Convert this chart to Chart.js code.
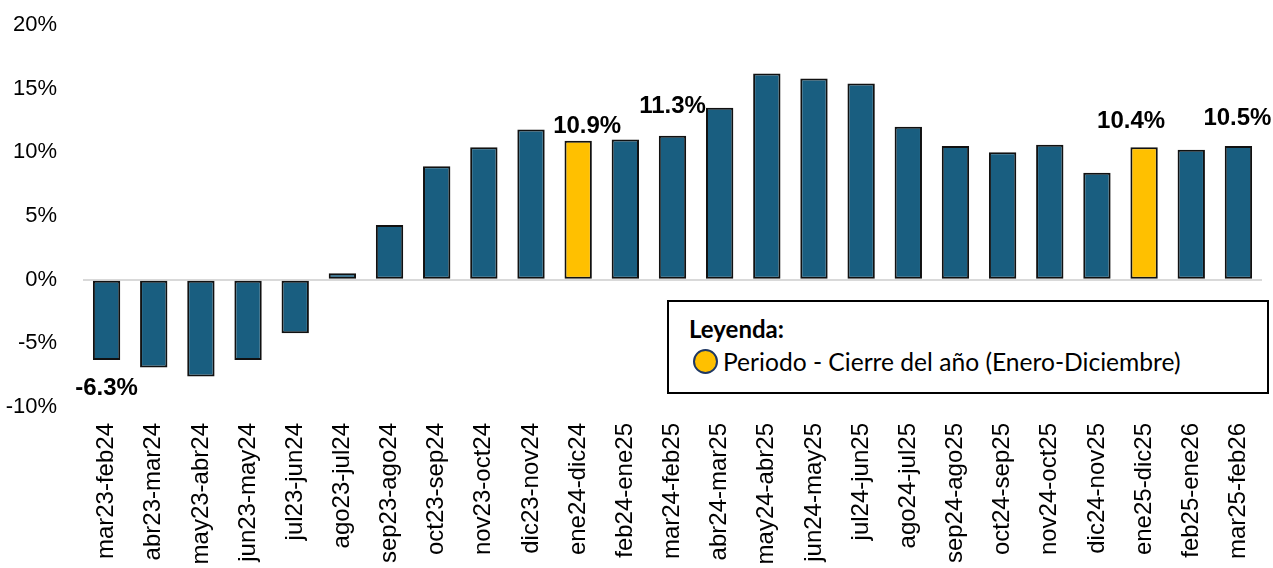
<!DOCTYPE html>
<html>
<head>
<meta charset="utf-8">
<script src="https://cdn.jsdelivr.net/npm/chart.js@4.4.1/dist/chart.umd.min.js"></script>
<style>
  html, body { margin: 0; padding: 0; background: #fff; }
  #wrap { position: relative; width: 1273px; height: 568px; }
  #legendBox {
    position: absolute; left: 667px; top: 300px; width: 598px; height: 90px;
    border: 2px solid #000; background: #fff; font-family: Lato, "Open Sans", sans-serif; color: #000;
  }
  #legendTitle { position: absolute; left: 20px; top: 12px; font-weight: bold; font-size: 24px; line-height: 29px; }
  #legendItem { position: absolute; left: 24px; top: 45px; font-size: 24.6px; line-height: 29px; display: flex; align-items: center; white-space: nowrap; }
  #legendDot { width: 21px; height: 21px; border-radius: 50%; background: #FFC000; border: 2px solid #1F3864; margin-right: 5px; }
</style>
</head>
<body>
<div id="wrap">
  <canvas id="c" width="1273" height="568"></canvas>
  <div id="legendBox">
    <div id="legendTitle">Leyenda:</div>
    <div id="legendItem"><span id="legendDot"></span><span>Periodo - Cierre del año (Enero-Diciembre)</span></div>
  </div>
</div>
<script>
const categories = ["mar23-feb24","abr23-mar24","may23-abr24","jun23-may24","jul23-jun24","ago23-jul24","sep23-ago24","oct23-sep24","nov23-oct24","dic23-nov24","ene24-dic24","feb24-ene25","mar24-feb25","abr24-mar25","may24-abr25","jun24-may25","jul24-jun25","ago24-jul25","sep24-ago25","oct24-sep25","nov24-oct25","dic24-nov25","ene25-dic25","feb25-ene26","mar25-feb26"];
const values = [-6.3, -6.9, -7.6, -6.3, -4.2, 0.5, 4.3, 8.9, 10.4, 11.8, 10.9, 11.0, 11.3, 13.5, 16.2, 15.8, 15.4, 12.0, 10.5, 10.0, 10.6, 8.4, 10.4, 10.2, 10.5];
const yearClose = ["ene24-dic24", "ene25-dic25"];
const labeledCategories = ["mar23-feb24", "ene24-dic24", "mar24-feb25", "ene25-dic25", "mar25-feb26"];
const yTicks = [-10, -5, 0, 5, 10, 15, 20];

const BLUE = "#195E80", GOLD = "#FFC000";
const colors = categories.map(c => yearClose.includes(c) ? GOLD : BLUE);

// label placement offsets (dx, dy) relative to bar end, by category
const labelOffsets = {
  "mar23-feb24": [0, 28], "ene24-dic24": [9, -14], "mar24-feb25": [0, -29],
  "ene25-dic25": [-13, -26], "mar25-feb26": [-1, -28]
};

const valueLabels = {
  id: "valueLabels",
  afterDatasetsDraw(chart) {
    const ctx = chart.ctx;
    const meta = chart.getDatasetMeta(0);
    ctx.save();
    ctx.font = "bold 24px 'Liberation Sans', Arial, sans-serif";
    ctx.fillStyle = "#000";
    ctx.textAlign = "center";
    ctx.textBaseline = "middle";
    labeledCategories.forEach(cat => {
      const i = categories.indexOf(cat);
      const el = meta.data[i];
      const [dx, dy] = labelOffsets[cat];
      ctx.fillText(values[i].toFixed(1) + "%", el.x + dx, el.y + dy);
    });
    ctx.restore();
  }
};

new Chart(document.getElementById("c"), {
  type: "bar",
  data: {
    labels: categories,
    datasets: [{
      data: values,
      backgroundColor: colors,
      borderColor: "#111",
      borderWidth: 2,
      borderSkipped: false,
      barPercentage: 0.58,
      categoryPercentage: 1.0
    }]
  },
  options: {
    responsive: false,
    animation: false,
    layout: { padding: { top: 25, right: 11, left: 0, bottom: 0 } },
    plugins: { legend: { display: false }, tooltip: { enabled: false } },
    scales: {
      x: {
        grid: { display: false, drawTicks: false },
        border: { display: false },
        ticks: {
          autoSkip: false, maxRotation: 90, minRotation: 90, padding: 16,
          color: "#000", font: { family: "'Liberation Sans', Arial, sans-serif", size: 24 }
        },
        afterFit(s) { s.height = 161; s.paddingLeft = 0; s.paddingRight = 0; }
      },
      y: {
        min: -10, max: 20,
        afterBuildTicks(s) { s.ticks = yTicks.map(v => ({ value: v })); },
        grid: {
          drawTicks: false,
          color: c => (c.tick && c.tick.value === 0) ? "#D9D9D9" : "rgba(0,0,0,0)",
          lineWidth: 2
        },
        border: { display: false },
        ticks: {
          padding: 26, color: "#000",
          font: { family: "'Liberation Sans', Arial, sans-serif", size: 22 },
          callback: v => v + "%"
        },
        afterFit(s) { s.width = 83; s.paddingTop = 0; s.paddingBottom = 0; }
      }
    }
  },
  plugins: [valueLabels]
});
</script>
</body>
</html>
